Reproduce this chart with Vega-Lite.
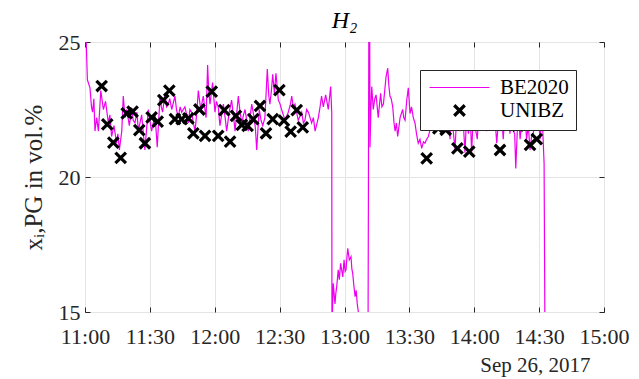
{
  "$schema": "https://vega.github.io/schema/vega-lite/v6.json",
  "autosize": "none",
  "width": 519,
  "height": 270,
  "padding": {"left": 85, "top": 42, "right": 35, "bottom": 67},
  "background": "white",
  "title": {"text": "H₂", "font": "Liberation Serif", "fontStyle": "italic", "fontSize": 24, "fontWeight": "normal", "color": "black", "offset": -2},
  "config": {
    "view": {"stroke": "#262626", "strokeWidth": 1},
    "axis": {"labelFont": "Liberation Serif", "titleFont": "Liberation Serif", "labelColor": "#262626", "titleColor": "#262626", "tickColor": "#262626", "gridColor": "#e4e4e4", "domain": false, "titleFontWeight": "normal"}
  },
  "datasets": {
    "be": [
      {"t":"2017-09-26T11:00:00","v":25.6},{"t":"2017-09-26T11:00:30","v":25.2},{"t":"2017-09-26T11:01:06","v":23.6},{"t":"2017-09-26T11:02:18","v":23.3},{"t":"2017-09-26T11:03:00","v":22.6},{"t":"2017-09-26T11:03:30","v":22.4},{"t":"2017-09-26T11:04:06","v":22.9},{"t":"2017-09-26T11:04:36","v":21.7},{"t":"2017-09-26T11:05:24","v":22.2},{"t":"2017-09-26T11:06:12","v":21.7},{"t":"2017-09-26T11:07:18","v":23.2},{"t":"2017-09-26T11:08:30","v":22.5},{"t":"2017-09-26T11:09:30","v":22.8},{"t":"2017-09-26T11:10:48","v":22.0},{"t":"2017-09-26T11:11:30","v":22.3},{"t":"2017-09-26T11:12:18","v":21.5},{"t":"2017-09-26T11:13:24","v":21.9},{"t":"2017-09-26T11:14:36","v":21.25},{"t":"2017-09-26T11:15:12","v":21.6},{"t":"2017-09-26T11:15:54","v":21.0},{"t":"2017-09-26T11:17:00","v":21.7},{"t":"2017-09-26T11:17:42","v":23.0},{"t":"2017-09-26T11:18:30","v":22.2},{"t":"2017-09-26T11:19:18","v":22.5},{"t":"2017-09-26T11:20:30","v":21.9},{"t":"2017-09-26T11:21:36","v":22.55},{"t":"2017-09-26T11:22:18","v":22.1},{"t":"2017-09-26T11:23:06","v":22.0},{"t":"2017-09-26T11:24:00","v":22.4},{"t":"2017-09-26T11:24:42","v":21.7},{"t":"2017-09-26T11:25:24","v":22.0},{"t":"2017-09-26T11:26:12","v":22.3},{"t":"2017-09-26T11:27:00","v":21.6},{"t":"2017-09-26T11:27:42","v":21.0},{"t":"2017-09-26T11:28:30","v":21.8},{"t":"2017-09-26T11:29:18","v":22.5},{"t":"2017-09-26T11:30:00","v":22.1},{"t":"2017-09-26T11:30:48","v":21.7},{"t":"2017-09-26T11:31:36","v":22.0},{"t":"2017-09-26T11:32:24","v":22.3},{"t":"2017-09-26T11:33:24","v":21.1},{"t":"2017-09-26T11:34:42","v":23.0},{"t":"2017-09-26T11:35:18","v":22.6},{"t":"2017-09-26T11:35:54","v":22.4},{"t":"2017-09-26T11:37:00","v":23.1},{"t":"2017-09-26T11:37:42","v":22.6},{"t":"2017-09-26T11:38:30","v":22.7},{"t":"2017-09-26T11:39:12","v":22.9},{"t":"2017-09-26T11:40:06","v":22.5},{"t":"2017-09-26T11:41:36","v":23.0},{"t":"2017-09-26T11:42:18","v":22.5},{"t":"2017-09-26T11:43:06","v":22.2},{"t":"2017-09-26T11:44:00","v":22.6},{"t":"2017-09-26T11:44:42","v":22.4},{"t":"2017-09-26T11:46:12","v":22.6},{"t":"2017-09-26T11:47:00","v":22.3},{"t":"2017-09-26T11:47:48","v":22.0},{"t":"2017-09-26T11:48:30","v":22.5},{"t":"2017-09-26T11:49:18","v":22.4},{"t":"2017-09-26T11:50:06","v":22.0},{"t":"2017-09-26T11:50:54","v":21.7},{"t":"2017-09-26T11:51:36","v":22.3},{"t":"2017-09-26T11:52:24","v":23.2},{"t":"2017-09-26T11:53:30","v":22.5},{"t":"2017-09-26T11:54:42","v":23.0},{"t":"2017-09-26T11:55:18","v":22.6},{"t":"2017-09-26T11:56:00","v":22.2},{"t":"2017-09-26T11:56:42","v":24.15},{"t":"2017-09-26T11:57:12","v":23.2},{"t":"2017-09-26T11:57:48","v":22.7},{"t":"2017-09-26T11:59:00","v":23.5},{"t":"2017-09-26T12:00:06","v":22.4},{"t":"2017-09-26T12:00:48","v":22.8},{"t":"2017-09-26T12:01:36","v":22.6},{"t":"2017-09-26T12:02:24","v":21.9},{"t":"2017-09-26T12:03:12","v":22.3},{"t":"2017-09-26T12:04:00","v":22.7},{"t":"2017-09-26T12:04:48","v":22.2},{"t":"2017-09-26T12:05:30","v":21.7},{"t":"2017-09-26T12:06:42","v":22.4},{"t":"2017-09-26T12:07:48","v":22.85},{"t":"2017-09-26T12:08:36","v":22.3},{"t":"2017-09-26T12:09:24","v":21.7},{"t":"2017-09-26T12:10:12","v":22.4},{"t":"2017-09-26T12:10:54","v":23.0},{"t":"2017-09-26T12:11:42","v":22.4},{"t":"2017-09-26T12:12:30","v":22.0},{"t":"2017-09-26T12:13:18","v":22.3},{"t":"2017-09-26T12:14:00","v":22.5},{"t":"2017-09-26T12:14:48","v":22.1},{"t":"2017-09-26T12:15:30","v":21.7},{"t":"2017-09-26T12:16:18","v":22.2},{"t":"2017-09-26T12:17:06","v":22.7},{"t":"2017-09-26T12:18:12","v":22.2},{"t":"2017-09-26T12:18:48","v":21.8},{"t":"2017-09-26T12:19:24","v":21.0},{"t":"2017-09-26T12:20:00","v":21.8},{"t":"2017-09-26T12:20:36","v":22.5},{"t":"2017-09-26T12:21:24","v":22.1},{"t":"2017-09-26T12:22:12","v":21.9},{"t":"2017-09-26T12:23:12","v":22.2},{"t":"2017-09-26T12:24:18","v":24.0},{"t":"2017-09-26T12:25:00","v":23.0},{"t":"2017-09-26T12:25:30","v":22.7},{"t":"2017-09-26T12:26:12","v":23.2},{"t":"2017-09-26T12:26:48","v":23.8},{"t":"2017-09-26T12:27:36","v":23.1},{"t":"2017-09-26T12:28:18","v":23.84},{"t":"2017-09-26T12:29:24","v":22.85},{"t":"2017-09-26T12:30:12","v":22.7},{"t":"2017-09-26T12:30:54","v":22.5},{"t":"2017-09-26T12:31:42","v":22.3},{"t":"2017-09-26T12:32:30","v":22.1},{"t":"2017-09-26T12:34:00","v":22.4},{"t":"2017-09-26T12:35:00","v":22.7},{"t":"2017-09-26T12:35:36","v":23.0},{"t":"2017-09-26T12:36:18","v":22.6},{"t":"2017-09-26T12:37:06","v":22.7},{"t":"2017-09-26T12:38:36","v":22.1},{"t":"2017-09-26T12:40:12","v":22.4},{"t":"2017-09-26T12:41:00","v":22.0},{"t":"2017-09-26T12:41:42","v":22.1},{"t":"2017-09-26T12:42:30","v":22.5},{"t":"2017-09-26T12:43:18","v":22.4},{"t":"2017-09-26T12:44:48","v":22.0},{"t":"2017-09-26T12:45:36","v":22.2},{"t":"2017-09-26T12:46:24","v":21.7},{"t":"2017-09-26T12:47:54","v":22.2},{"t":"2017-09-26T12:48:42","v":22.6},{"t":"2017-09-26T12:49:24","v":23.0},{"t":"2017-09-26T12:50:12","v":22.6},{"t":"2017-09-26T12:51:18","v":23.04},{"t":"2017-09-26T12:52:30","v":22.5},{"t":"2017-09-26T12:53:36","v":23.35},{"t":"2017-09-26T12:54:06","v":22.4},{"t":"2017-09-26T12:54:12","v":14.5},{"t":"2017-09-26T12:54:36","v":15.5},{"t":"2017-09-26T12:54:48","v":16.06},{"t":"2017-09-26T12:55:36","v":15.3},{"t":"2017-09-26T12:56:00","v":15.7},{"t":"2017-09-26T12:56:24","v":15.94},{"t":"2017-09-26T12:57:06","v":16.56},{"t":"2017-09-26T12:57:36","v":16.2},{"t":"2017-09-26T12:58:12","v":16.8},{"t":"2017-09-26T12:59:12","v":16.3},{"t":"2017-09-26T12:59:48","v":16.93},{"t":"2017-09-26T13:00:18","v":16.5},{"t":"2017-09-26T13:00:42","v":16.56},{"t":"2017-09-26T13:01:06","v":17.0},{"t":"2017-09-26T13:01:30","v":17.36},{"t":"2017-09-26T13:02:12","v":16.93},{"t":"2017-09-26T13:03:00","v":17.05},{"t":"2017-09-26T13:03:24","v":16.6},{"t":"2017-09-26T13:03:48","v":16.43},{"t":"2017-09-26T13:04:18","v":16.0},{"t":"2017-09-26T13:04:54","v":15.57},{"t":"2017-09-26T13:05:24","v":15.8},{"t":"2017-09-26T13:05:54","v":15.3},{"t":"2017-09-26T13:06:24","v":15.0},{"t":"2017-09-26T13:06:48","v":14.5},{"t":"2017-09-26T13:10:54","v":14.5},{"t":"2017-09-26T13:11:18","v":27},{"t":"2017-09-26T13:11:36","v":27},{"t":"2017-09-26T13:11:48","v":21.1},{"t":"2017-09-26T13:12:12","v":22.5},{"t":"2017-09-26T13:12:36","v":23.35},{"t":"2017-09-26T13:13:18","v":22.5},{"t":"2017-09-26T13:14:00","v":22.9},{"t":"2017-09-26T13:14:36","v":23.04},{"t":"2017-09-26T13:15:36","v":22.2},{"t":"2017-09-26T13:16:42","v":23.1},{"t":"2017-09-26T13:17:18","v":22.6},{"t":"2017-09-26T13:18:00","v":22.7},{"t":"2017-09-26T13:18:36","v":23.2},{"t":"2017-09-26T13:19:12","v":23.7},{"t":"2017-09-26T13:20:00","v":24.03},{"t":"2017-09-26T13:20:30","v":23.4},{"t":"2017-09-26T13:21:00","v":23.0},{"t":"2017-09-26T13:21:36","v":22.9},{"t":"2017-09-26T13:22:18","v":22.6},{"t":"2017-09-26T13:22:54","v":22.0},{"t":"2017-09-26T13:23:24","v":21.7},{"t":"2017-09-26T13:24:00","v":22.0},{"t":"2017-09-26T13:24:36","v":21.5},{"t":"2017-09-26T13:25:42","v":22.2},{"t":"2017-09-26T13:26:54","v":22.5},{"t":"2017-09-26T13:27:24","v":22.2},{"t":"2017-09-26T13:28:00","v":22.1},{"t":"2017-09-26T13:28:48","v":22.85},{"t":"2017-09-26T13:29:30","v":23.3},{"t":"2017-09-26T13:30:18","v":22.35},{"t":"2017-09-26T13:31:00","v":22.6},{"t":"2017-09-26T13:31:48","v":22.2},{"t":"2017-09-26T13:32:36","v":22.0},{"t":"2017-09-26T13:33:18","v":21.6},{"t":"2017-09-26T13:34:06","v":21.25},{"t":"2017-09-26T13:34:54","v":21.4},{"t":"2017-09-26T13:35:42","v":21.06},{"t":"2017-09-26T13:36:30","v":21.3},{"t":"2017-09-26T13:37:12","v":21.25},{"t":"2017-09-26T13:38:00","v":21.4},{"t":"2017-09-26T13:38:48","v":21.5},{"t":"2017-09-26T13:39:30","v":21.74},{"t":"2017-09-26T13:40:18","v":22.3},{"t":"2017-09-26T13:41:06","v":21.7},{"t":"2017-09-26T13:42:00","v":22.5},{"t":"2017-09-26T13:43:00","v":21.8},{"t":"2017-09-26T13:43:48","v":22.6},{"t":"2017-09-26T13:44:48","v":21.7},{"t":"2017-09-26T13:45:48","v":22.8},{"t":"2017-09-26T13:46:48","v":22.2},{"t":"2017-09-26T13:47:48","v":22.9},{"t":"2017-09-26T13:48:48","v":21.4},{"t":"2017-09-26T13:49:30","v":22.4},{"t":"2017-09-26T13:50:18","v":21.7},{"t":"2017-09-26T13:51:06","v":21.0},{"t":"2017-09-26T13:52:00","v":22.5},{"t":"2017-09-26T13:52:42","v":22.0},{"t":"2017-09-26T13:53:24","v":21.7},{"t":"2017-09-26T13:54:24","v":22.8},{"t":"2017-09-26T13:55:42","v":20.9},{"t":"2017-09-26T13:56:30","v":22.3},{"t":"2017-09-26T13:57:18","v":21.6},{"t":"2017-09-26T13:58:00","v":22.5},{"t":"2017-09-26T13:58:48","v":20.94},{"t":"2017-09-26T13:59:30","v":22.2},{"t":"2017-09-26T14:00:18","v":21.9},{"t":"2017-09-26T14:01:24","v":21.4},{"t":"2017-09-26T14:02:18","v":22.6},{"t":"2017-09-26T14:03:24","v":21.9},{"t":"2017-09-26T14:04:30","v":22.7},{"t":"2017-09-26T14:05:42","v":21.7},{"t":"2017-09-26T14:06:48","v":22.4},{"t":"2017-09-26T14:08:00","v":21.9},{"t":"2017-09-26T14:09:12","v":22.6},{"t":"2017-09-26T14:10:24","v":21.25},{"t":"2017-09-26T14:11:12","v":22.1},{"t":"2017-09-26T14:11:54","v":21.7},{"t":"2017-09-26T14:12:42","v":22.3},{"t":"2017-09-26T14:13:24","v":21.4},{"t":"2017-09-26T14:14:00","v":22.2},{"t":"2017-09-26T14:14:42","v":21.9},{"t":"2017-09-26T14:15:36","v":22.5},{"t":"2017-09-26T14:16:30","v":21.6},{"t":"2017-09-26T14:17:18","v":22.3},{"t":"2017-09-26T14:18:06","v":21.7},{"t":"2017-09-26T14:18:42","v":21.6},{"t":"2017-09-26T14:19:12","v":20.32},{"t":"2017-09-26T14:19:54","v":21.7},{"t":"2017-09-26T14:20:30","v":22.3},{"t":"2017-09-26T14:21:12","v":21.4},{"t":"2017-09-26T14:22:00","v":22.1},{"t":"2017-09-26T14:22:42","v":21.9},{"t":"2017-09-26T14:23:24","v":22.4},{"t":"2017-09-26T14:24:12","v":21.4},{"t":"2017-09-26T14:25:00","v":21.9},{"t":"2017-09-26T14:25:48","v":21.0},{"t":"2017-09-26T14:26:30","v":21.5},{"t":"2017-09-26T14:27:18","v":21.6},{"t":"2017-09-26T14:28:06","v":22.3},{"t":"2017-09-26T14:28:54","v":21.9},{"t":"2017-09-26T14:29:42","v":22.2},{"t":"2017-09-26T14:30:24","v":21.4},{"t":"2017-09-26T14:31:00","v":22.0},{"t":"2017-09-26T14:31:36","v":21.9},{"t":"2017-09-26T14:32:18","v":20.5},{"t":"2017-09-26T14:32:42","v":14.0}
    ],
    "unibz": [
      {"t":"2017-09-26T11:07:42","v":23.37},{"t":"2017-09-26T11:10:18","v":21.95},{"t":"2017-09-26T11:13:06","v":21.27},{"t":"2017-09-26T11:16:30","v":20.71},{"t":"2017-09-26T11:19:18","v":22.36},{"t":"2017-09-26T11:22:00","v":22.42},{"t":"2017-09-26T11:25:06","v":21.74},{"t":"2017-09-26T11:27:42","v":21.25},{"t":"2017-09-26T11:30:48","v":22.21},{"t":"2017-09-26T11:33:36","v":22.05},{"t":"2017-09-26T11:36:12","v":22.85},{"t":"2017-09-26T11:39:00","v":23.2},{"t":"2017-09-26T11:41:36","v":22.14},{"t":"2017-09-26T11:44:42","v":22.14},{"t":"2017-09-26T11:47:48","v":22.17},{"t":"2017-09-26T11:50:06","v":21.62},{"t":"2017-09-26T11:52:54","v":22.5},{"t":"2017-09-26T11:55:30","v":21.52},{"t":"2017-09-26T11:58:36","v":23.16},{"t":"2017-09-26T12:01:36","v":21.52},{"t":"2017-09-26T12:04:24","v":22.48},{"t":"2017-09-26T12:07:06","v":21.31},{"t":"2017-09-26T12:09:48","v":22.26},{"t":"2017-09-26T12:12:30","v":21.93},{"t":"2017-09-26T12:15:12","v":21.89},{"t":"2017-09-26T12:17:48","v":22.14},{"t":"2017-09-26T12:20:54","v":22.63},{"t":"2017-09-26T12:23:42","v":21.62},{"t":"2017-09-26T12:26:48","v":22.14},{"t":"2017-09-26T12:29:54","v":23.22},{"t":"2017-09-26T12:32:00","v":22.09},{"t":"2017-09-26T12:35:06","v":21.68},{"t":"2017-09-26T12:37:54","v":22.48},{"t":"2017-09-26T12:40:42","v":21.84},{"t":"2017-09-26T13:38:00","v":20.69},{"t":"2017-09-26T13:43:24","v":21.8},{"t":"2017-09-26T13:46:48","v":21.75},{"t":"2017-09-26T13:52:12","v":21.06},{"t":"2017-09-26T13:53:24","v":21.95},{"t":"2017-09-26T13:57:42","v":20.94},{"t":"2017-09-26T14:02:42","v":21.95},{"t":"2017-09-26T14:06:30","v":22.2},{"t":"2017-09-26T14:11:54","v":21.0},{"t":"2017-09-26T14:17:30","v":22.1},{"t":"2017-09-26T14:20:12","v":21.9},{"t":"2017-09-26T14:25:48","v":21.19},{"t":"2017-09-26T14:28:54","v":21.4}
    ]
  },
  "layer": [
    {
      "data": {"name": "be"},
      "mark": {"type": "line", "strokeWidth": 1.2, "clip": true},
      "encoding": {
        "x": {"field": "t", "type": "temporal",
              "scale": {"domain": [{"year": 2017, "month": "sep", "date": 26, "hours": 11}, {"year": 2017, "month": "sep", "date": 26, "hours": 15}], "nice": false},
              "axis": {"orient": "bottom", "format": "%H:%M", "tickCount": 8, "labelFontSize": 22, "labelFlush": false, "labelOverlap": false, "grid": true, "tickSize": -5, "labelPadding": 19,
                       "title": "Sep 26, 2017", "titleFontSize": 21, "titleX": 505, "titleY": 53, "titleAlign": "right", "titleBaseline": "middle"}},
        "y": {"field": "v", "type": "quantitative",
              "scale": {"domain": [15, 25], "nice": false, "zero": false},
              "axis": {"orient": "left", "values": [15, 20, 25], "labelFontSize": 22, "grid": true, "tickSize": -5, "labelPadding": 10,
                       "title": "xᵢ,PG in vol.%", "titleFontSize": 25, "titlePadding": 12}},
        "color": {"datum": "BE2020", "type": "nominal",
                  "scale": {"domain": ["BE2020", "UNIBZ"], "range": ["#ee00ee", "#000000"]},
                  "legend": {"title": null, "orient": "top-right", "offset": 28, "padding": 7, "fillColor": "white", "strokeColor": "#262626", "cornerRadius": 0,
                             "labelFont": "Liberation Serif", "labelFontSize": 21, "labelColor": "#000000", "symbolSize": 110, "rowPadding": 0,
                             "symbolOffset": 22, "labelOffset": 30,
                             "encode": {"symbols": {"update": {
                               "shape": {"signal": "datum.value === 'BE2020' ? 'M-5.7,0L5.7,0' : 'M-1,-1L1,1M-1,1L1,-1'"},
                               "stroke": {"signal": "datum.value === 'BE2020' ? '#ee00ee' : '#000000'"},
                               "strokeWidth": {"signal": "datum.value === 'BE2020' ? 1.2 : 3.2"}}}}}}
      }
    },
    {
      "data": {"name": "unibz"},
      "mark": {"type": "point", "shape": "M-1,-1L1,1M-1,1L1,-1", "filled": false, "size": 110, "strokeWidth": 3.2, "opacity": 1, "clip": true},
      "encoding": {
        "x": {"field": "t", "type": "temporal",
              "axis": {"orient": "top", "labels": false, "grid": false, "tickSize": -5, "tickCount": 8, "title": null}},
        "y": {"field": "v", "type": "quantitative",
              "axis": {"orient": "right", "labels": false, "grid": false, "tickSize": -5, "values": [15, 20, 25], "title": null}},
        "color": {"datum": "UNIBZ", "type": "nominal"}
      }
    }
  ],
  "resolve": {"axis": {"x": "independent", "y": "independent"}}
}
